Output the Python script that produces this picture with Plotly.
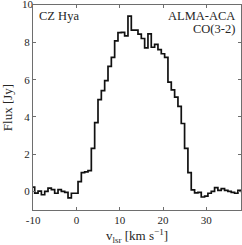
import plotly.graph_objects as go

# channel centre velocities [km/s]
velocity = [-10.01, -9.24, -8.47, -7.70, -6.94, -6.17, -5.40, -4.63, -3.86, -3.09,
            -2.32, -1.55, -0.78, -0.01, 0.76, 1.52, 2.29, 3.06, 3.83, 4.60,
            5.37, 6.14, 6.91, 7.68, 8.45, 9.21, 9.98, 10.75, 11.52, 12.29,
            13.06, 13.83, 14.60, 15.37, 16.14, 16.90, 17.67, 18.44, 19.21, 19.98,
            20.75, 21.52, 22.29, 23.06, 23.83, 24.59, 25.36, 26.13, 26.90, 27.67,
            28.44, 29.21, 29.98, 30.75, 31.52, 32.28, 33.05, 33.82, 34.59, 35.36,
            36.13, 36.90, 37.67, 38.44]

# flux density [Jy]
flux = [0.23, -0.09, 0.02, -0.18, 0.00, 0.18, 0.10, -0.10, 0.10, 0.00,
        -0.05, -0.35, -0.10, -0.10, 0.53, 1.01, 1.05, 1.12, 2.31, 3.70,
        4.93, 5.42, 5.96, 6.72, 7.20, 8.09, 8.53, 8.55, 8.36, 9.42,
        8.67, 8.67, 8.45, 8.22, 7.72, 8.47, 7.75, 7.90, 7.62, 7.40,
        7.20, 5.87, 5.46, 5.07, 4.57, 3.65, 2.31, 1.01, 0.08, -0.08,
        -0.05, -0.30, -0.25, -0.10, 0.00, 0.20, 0.05, 0.15, 0.05, 0.00,
        -0.05, -0.10, 0.05, 0.00]

x_range = [-10.02, 38]
y_range = [-1, 10.02]
x_ticks = [-10, 0, 10, 20, 30]
x_ticklabels = ["-10", "0", "10", "20", "30"]
y_ticks = [0, 2, 4, 6, 8, 10]
y_ticklabels = ["0", "2", "4", "6", "8", "10"]

source_label = "CZ Hya"
instrument_label = "ALMA-ACA"
line_label = "CO(3-2)"

FONT = "Liberation Serif, DejaVu Serif, serif"
AX_COL = "#6e6e6e"
TXT_COL = "#262626"

fig = go.Figure()
fig.add_trace(go.Scatter(
    x=velocity, y=flux, mode="lines", line_shape="hvh",
    line=dict(color="#111111", width=1.7), showlegend=False, hoverinfo="skip",
))
# topmost y tick label sits on the figure edge, where plotly drops it;
# draw it as unclipped text on the same scales instead
fig.add_trace(go.Scatter(
    x=[x_range[0]], y=[y_ticks[-1]], mode="text", text=[y_ticklabels[-1]],
    textposition="middle left", cliponaxis=False, showlegend=False, hoverinfo="skip",
    textfont=dict(family=FONT, size=11, color=TXT_COL),
))

axis_common = dict(
    showgrid=False, zeroline=False, showline=True, linecolor=AX_COL, linewidth=1,
    mirror="ticks", ticks="inside", ticklen=3, tickcolor=AX_COL, tickwidth=1,
    tickfont=dict(family=FONT, size=11, color=TXT_COL), automargin=False,
    ticklabeloverflow="allow",
)

y_ticktext_axis = y_ticklabels[:-1] + [""]

fig.update_layout(
    width=242, height=245,
    margin=dict(l=33, r=1, t=5, b=35, autoexpand=False),
    paper_bgcolor="white", plot_bgcolor="white",
    font=dict(family=FONT, color=TXT_COL),
    xaxis=dict(range=x_range, tickvals=x_ticks, ticktext=x_ticklabels,
               title=dict(text="v<sub>lsr</sub> [km s<sup>−1</sup>]",
                          font=dict(family=FONT, size=13, color=TXT_COL), standoff=8),
               **axis_common),
    yaxis=dict(range=y_range, tickvals=y_ticks, ticktext=y_ticktext_axis,
               title=dict(text="Flux [Jy]",
                          font=dict(family=FONT, size=13, color=TXT_COL), standoff=8),
               **axis_common),
    annotations=[
        dict(text=source_label, xref="paper", yref="paper", x=0.02, y=0.946,
             xanchor="left", yanchor="middle", showarrow=False,
             font=dict(family=FONT, size=12.5, color=TXT_COL)),
        dict(text=instrument_label, xref="paper", yref="paper", x=0.982, y=0.947,
             xanchor="right", yanchor="middle", showarrow=False,
             font=dict(family=FONT, size=12.5, color=TXT_COL)),
        dict(text=line_label, xref="paper", yref="paper", x=0.982, y=0.884,
             xanchor="right", yanchor="middle", showarrow=False,
             font=dict(family=FONT, size=12.5, color=TXT_COL)),
    ],
)

fig.write_html("out.html", config={"displayModeBar": False},
               post_script="document.body.style.margin='0';")
